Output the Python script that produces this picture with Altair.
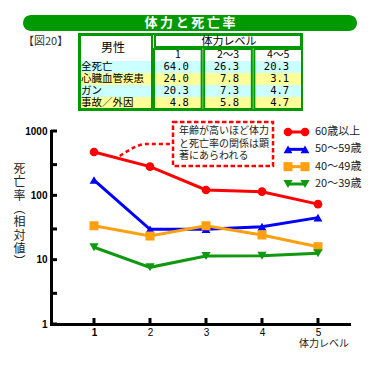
import altair as alt
import pandas as pd

# ---------------- data ----------------
levels = [1, 2, 3, 4, 5]
series = ["60歳以上", "50～59歳", "40～49歳", "20～39歳"]
rate_60 = [472, 279, 121, 114, 73]
rate_50 = [173, 29.7, 29.7, 32.6, 45]
rate_40 = [33.7, 23.3, 33.7, 24.2, 15.9]
rate_20 = [15.6, 7.6, 11.4, 11.5, 12.6]
series_colors = ["#ff0000", "#0000ff", "#ffa010", "#109910"]
series_shapes = ["circle", "triangle-up", "square", "triangle-down"]
series_sizes = [75, 85, 60, 85]

y_tick_values = [1, 3, 10, 30, 100, 300, 1000]
y_label_values = [1, 10, 100, 1000]

chart_title = "体力と死亡率"
fig_label = "【図20】"
y_title_chars = ["死", "亡", "率", "︵", "相", "対", "値", "︶"]
x_title = "体力レベル"

table_head = "体力レベル"
table_corner = "男性"
table_cols = ["1", "2～3", "4～5"]
table_rows = ["全死亡", "心臓血管疾患", "ガン", "事故／外因"]
table_all = ["64.0", "26.3", "20.3"]
table_cardio = ["24.0", "7.8", "3.1"]
table_cancer = ["20.3", "7.3", "4.7"]
table_accident = ["4.8", "5.8", "4.7"]
row_fills = ["#ccffff", "#ffff99", "#ccffff", "#ffff99"]

note_lines = ["年齢が高いほど体力", "と死亡率の関係は顕", "著にあらわれる"]
conn_x = [1.46, 1.95, 2.45]
conn_y = [409, 629, 629]

# ---------------- frames ----------------
W, H = 298, 193
JP = "Noto Sans CJK JP"
GREEN = "#009900"

rows = []
for s, vals in zip(series, [rate_60, rate_50, rate_40, rate_20]):
    for lv, v in zip(levels, vals):
        rows.append({"series": s, "level": lv, "value": v})
df = pd.DataFrame(rows)

cells = []
for c in table_cols:
    cells.append({"row": "sub", "col": c, "val": c})
for r, vals in zip(table_rows, [table_all, table_cardio, table_cancer, table_accident]):
    for c, v in zip(table_cols, vals):
        cells.append({"row": r, "col": c, "val": v})
df_cells = pd.DataFrame(cells)
df_sub = df_cells[df_cells["row"] == "sub"]
df_num = df_cells[df_cells["row"] != "sub"]
df_rows = pd.DataFrame({"row": table_rows, "fill": row_fills})
df_cols = pd.DataFrame({"col": table_cols})
df_series = pd.DataFrame({"series": series})
one = pd.DataFrame({"a": [0]})

# ---------------- scales / axes ----------------
xs = alt.Scale(domain=[0.232, 5.554], nice=False, zero=False)
ys = alt.Scale(type="log", domain=[1, 1000], nice=False)
cscale = alt.Scale(domain=series, range=series_colors)
shscale = alt.Scale(domain=series, range=series_shapes)
szscale = alt.Scale(domain=series, range=series_sizes)

x_axis = alt.Axis(values=levels, title=None, grid=False, ticks=False, tickSize=0,
                  domainColor="black", domainWidth=3, domainCap="square",
                  labelFont="Liberation Sans", labelFontSize=10, labelColor="black",
                  labelPadding=3, labelFlush=False, labelOverlap=False,
                  labelFontWeight={"condition": {"test": "datum.value == 1", "value": "bold"},
                                   "value": "normal"})
y_axis = alt.Axis(values=y_label_values, title=None, grid=False, ticks=False, tickSize=0,
                  domainColor="black", domainWidth=3, domainCap="square",
                  labelFont="Liberation Sans", labelFontSize=10, labelColor="black",
                  labelFontWeight="bold", labelPadding=4, format="d",
                  labelFlush=False, labelOverlap=False)

X = alt.X("level:Q", scale=xs, axis=x_axis)
Y = alt.Y("value:Q", scale=ys, axis=y_axis)
C = alt.Color("series:N", scale=cscale, legend=None)
S = alt.Shape("series:N", scale=shscale, legend=None)
Z = alt.Size("series:N", scale=szscale, legend=None)

# ---------------- main plot ----------------
lines = alt.Chart(df).mark_line(strokeWidth=3).encode(x=X, y=Y, color=C)
points = alt.Chart(df).mark_point(filled=True, opacity=1).encode(x=X, y=Y, color=C, shape=S, size=Z)

yticks = alt.Chart(pd.DataFrame({"value": y_tick_values})).mark_rule(
    strokeWidth=3, color="black").encode(y=Y, x=alt.value(0), x2=alt.value(6))
xticks = alt.Chart(pd.DataFrame({"level": levels})).mark_rule(
    strokeWidth=3, color="black").encode(x=X, y=alt.value(H), y2=alt.value(H - 6))

conn = alt.Chart(pd.DataFrame({"level": conn_x, "value": conn_y})).mark_line(
    color="#ff0000", strokeDash=[4, 3], strokeWidth=2.5, interpolate="monotone").encode(x=X, y=Y)

note_box = alt.Chart(one).mark_rect(fill="white", stroke="#ff0000", strokeWidth=2.5,
                                    strokeDash=[4.5, 2.5]).encode(
    x=alt.value(122), x2=alt.value(222), y=alt.value(-9), y2=alt.value(35))
note_text = alt.Chart(one).mark_text(text=note_lines, align="left", baseline="top",
                                     font=JP, fontSize=10, lineHeight=12.5,
                                     color="#222").encode(x=alt.value(128), y=alt.value(-5))

y_title = alt.Chart(one).mark_text(text=y_title_chars, align="center", baseline="top",
                                   font=JP, fontSize=12, lineHeight=13.3,
                                   color="#222").encode(x=alt.value(-31.5), y=alt.value(33))
x_title_m = alt.Chart(one).mark_text(text=x_title, align="center", baseline="middle",
                                     font=JP, fontSize=10, color="#222").encode(
    x=alt.value(273), y=alt.value(213))

main = alt.layer(lines, points, yticks, xticks, conn, note_box, note_text, y_title, x_title_m)

# ---------------- title bar ----------------
title_bar = alt.Chart(one).mark_rect(cornerRadius=8, color=GREEN).encode(
    x=alt.value(-28), x2=alt.value(306), y=alt.value(-116), y2=alt.value(-100))
title_text = alt.Chart(one).mark_text(text="\u2009".join(chart_title), align="center",
                                      baseline="middle", font=JP, fontSize=13,
                                      fontWeight="bold", color="white").encode(
    x=alt.value(139), y=alt.value(-108))
fig_text = alt.Chart(one).mark_text(text=fig_label, align="left", baseline="middle",
                                    font=JP, fontSize=11, color="#333").encode(
    x=alt.value(-28), y=alt.value(-89))

# ---------------- table ----------------
tx = alt.Scale(domain=table_cols, range=[103, 251], paddingInner=0.05, paddingOuter=0)
ty = alt.Scale(domain=["sub"] + table_rows, range=[-82, -22], paddingInner=0, paddingOuter=0)
TX = alt.X("col:N", scale=tx, axis=None)
TY = alt.Y("row:N", scale=ty, axis=None)

stripes = alt.Chart(df_rows).mark_rect().encode(
    y=TY, x=alt.value(28), x2=alt.value(251), fill=alt.Fill("fill:N", scale=None))
outer = alt.Chart(one).mark_rect(fillOpacity=0, stroke=GREEN, strokeWidth=2).encode(
    x=alt.value(28), x2=alt.value(251), y=alt.value(-97), y2=alt.value(-21))
first_col = alt.Chart(one).mark_rect(fillOpacity=0, stroke=GREEN, strokeWidth=2).encode(
    x=alt.value(29), x2=alt.value(101), y=alt.value(-96), y2=alt.value(-22))
head_box = alt.Chart(one).mark_rect(fillOpacity=0, stroke=GREEN, strokeWidth=2).encode(
    x=alt.value(104), x2=alt.value(250), y=alt.value(-96), y2=alt.value(-84))
col_boxes = alt.Chart(df_cols).mark_rect(fillOpacity=0, stroke=GREEN, strokeWidth=2).encode(
    x=TX, y=alt.value(-82), y2=alt.value(-22))
head_text = alt.Chart(one).mark_text(text=table_head, align="center", baseline="middle",
                                     font=JP, fontSize=11, color="black").encode(
    x=alt.value(178), y=alt.value(-89))
corner_text = alt.Chart(one).mark_text(text=table_corner, align="center", baseline="middle",
                                       font=JP, fontSize=12, color="black").encode(
    x=alt.value(62), y=alt.value(-83))
sub_text = alt.Chart(df_sub).mark_text(align="center", baseline="middle", font=JP,
                                       fontSize=10.5, color="black").encode(
    x=TX, y=TY, text="val:N")
num_text = alt.Chart(df_num).mark_text(align="right", baseline="middle", dx=11,
                                       font="DejaVu Sans Mono", fontSize=10.5,
                                       color="black").encode(x=TX, y=TY, text="val:N")
row_text = alt.Chart(df_rows).mark_text(align="left", baseline="middle", font=JP,
                                        fontSize=10.5, color="black").encode(
    y=TY, x=alt.value(30), text="row:N")

table = alt.layer(title_bar, title_text, fig_text, stripes, outer, first_col, head_box,
                  col_boxes, head_text, corner_text, sub_text, num_text, row_text)

# ---------------- legend ----------------
ly = alt.Scale(type="point", domain=series, range=[1, 53], padding=0)
LY = alt.Y("series:N", scale=ly, axis=None)
leg_rule = alt.Chart(df_series).mark_rule(strokeWidth=3).encode(
    y=LY, x=alt.value(237), x2=alt.value(254), color=C)
leg_p1 = alt.Chart(df_series).mark_point(filled=True, opacity=1).encode(
    y=LY, x=alt.value(237), color=C, shape=S, size=Z)
leg_p2 = alt.Chart(df_series).mark_point(filled=True, opacity=1).encode(
    y=LY, x=alt.value(254), color=C, shape=S, size=Z)
leg_text = alt.Chart(df_series).mark_text(align="left", baseline="middle", font=JP,
                                          fontSize=11, color="#222").encode(
    y=LY, x=alt.value(264), text="series:N")
legend = alt.layer(leg_rule, leg_p1, leg_p2, leg_text)

chart = alt.layer(table, main, legend).resolve_scale(
    x="independent", y="independent"
).properties(
    width=W, height=H,
    autosize=alt.AutoSizeParams(type="none"),
    padding={"left": 43, "top": 123, "right": 20, "bottom": 25},
    background="white",
).configure_view(stroke=None)

chart.save("out.html", embed_options={"renderer": "svg", "actions": False})
